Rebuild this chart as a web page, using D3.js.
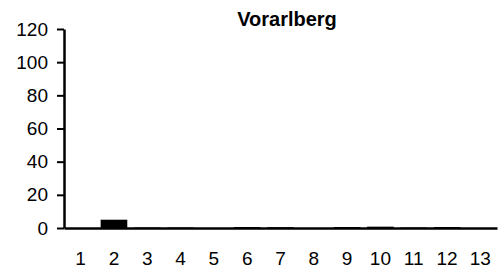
<!DOCTYPE html>
<html><head><meta charset="utf-8">
<script src="https://cdn.jsdelivr.net/npm/d3@7"></script>
<style>body{margin:0;background:#fff}</style>
</head><body>
<script>
const title = "Vorarlberg";
const categories = ["1","2","3","4","5","6","7","8","9","10","11","12","13"];
const values = [0, 5, 0.3, 0.3, 0, 0.6, 0.5, 0, 0.6, 0.8, 0.3, 0.6, 0];
const yTicks = [0, 20, 40, 60, 80, 100, 120];

const W = 498, H = 271;
const m = {left: 64, right: 1, top: 29, bottom: 43};
const FONT = "Liberation Sans, Arial, Helvetica, sans-serif";
const svg = d3.select("body").append("svg").attr("width", W).attr("height", H);
const x = d3.scaleBand().domain(categories).range([m.left, W - m.right]).paddingInner(0.2).paddingOuter(0.1);
const y = d3.scaleLinear().domain([0, 120]).range([H - m.bottom, m.top]);

svg.append("g").selectAll("rect").data(values).join("rect")
  .attr("x", (d, i) => x(categories[i]))
  .attr("width", x.bandwidth())
  .attr("y", d => y(d))
  .attr("height", d => y(0) - y(d))
  .attr("fill", "#000");

const ya = svg.append("g").attr("transform", `translate(${m.left},0)`)
  .call(d3.axisLeft(y).tickValues(yTicks).tickSize(7).tickPadding(9).tickSizeOuter(0));
ya.select(".domain").attr("stroke-width", 2.5);
ya.selectAll(".tick line").attr("stroke-width", 2);
ya.selectAll("text").attr("font-family", FONT).attr("font-size", 19).attr("fill", "#000");

const xa = svg.append("g").attr("transform", `translate(0,${y(0)})`)
  .call(d3.axisBottom(x).tickSize(0).tickPadding(24).tickSizeOuter(0));
xa.select(".domain").attr("stroke-width", 2.5);
xa.selectAll("text").attr("font-family", FONT).attr("font-size", 19).attr("fill", "#000");

svg.append("text").attr("x", 287).attr("y", 26).attr("text-anchor", "middle")
  .attr("font-family", FONT).attr("font-weight", "bold").attr("font-size", 20)
  .text(title);
</script>
</body></html>
